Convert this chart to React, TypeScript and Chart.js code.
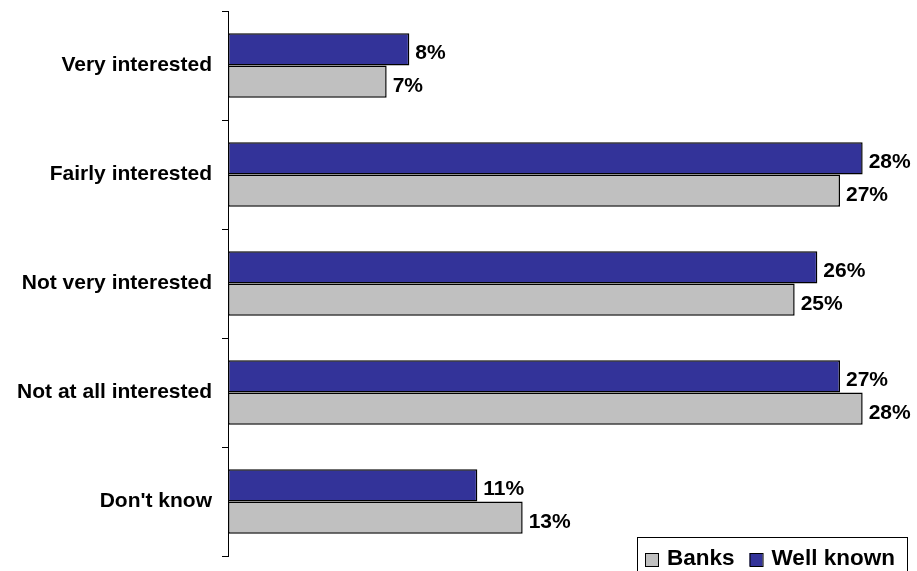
import React, { useEffect, useRef } from "react";
import { Chart, registerables } from "chart.js";

Chart.register(...registerables);

const categories = ["Very interested", "Fairly interested", "Not very interested", "Not at all interested", "Don't know"];
const wellKnown = [8, 28, 26, 27, 11];
const banks = [7, 27, 25, 28, 13];
const seriesNames = ["Well known", "Banks"];
const FONT = "'Liberation Sans', Arial, sans-serif";

const dataLabels = {
  id: "dataLabels",
  afterDatasetsDraw(chart: any) {
    const ctx = chart.ctx;
    ctx.save();
    ctx.font = `bold 21px ${FONT}`;
    ctx.fillStyle = "#000";
    ctx.textAlign = "left";
    ctx.textBaseline = "alphabetic";
    chart.data.datasets.forEach((ds: any, i: number) => {
      const meta = chart.getDatasetMeta(i);
      meta.data.forEach((bar: any, j: number) => {
        ctx.fillText(ds.data[j] + "%", bar.x + 6, bar.y + 10);
      });
    });
    ctx.restore();
  },
};

const boxLegend = {
  id: "boxLegend",
  afterDraw(chart: any) {
    const ctx = chart.ctx;
    ctx.save();
    const bx = 637, by = 537;
    ctx.strokeStyle = "#000";
    ctx.lineWidth = 1;
    ctx.strokeRect(bx + 0.5, by + 0.5, 270, 50);
    const items = [
      { label: seriesNames[1], color: "#C0C0C0" },
      { label: seriesNames[0], color: "#333399" },
    ];
    ctx.font = `bold 22.5px ${FONT}`;
    ctx.textBaseline = "alphabetic";
    ctx.textAlign = "left";
    let x = bx + 8;
    const baseY = 565;
    items.forEach((it) => {
      ctx.fillStyle = it.color;
      ctx.fillRect(x, 553, 13, 13);
      ctx.strokeStyle = "#000";
      ctx.strokeRect(x + 0.5, 553.5, 13, 13);
      ctx.fillStyle = "#000";
      ctx.fillText(it.label, x + 22, baseY);
      x += 22 + ctx.measureText(it.label).width + 15;
    });
    ctx.restore();
  },
};

export default function App() {
  const ref = useRef<HTMLCanvasElement>(null);
  useEffect(() => {
    if (!ref.current) return;
    const chart = new Chart(ref.current, {
      type: "bar",
      data: {
        labels: categories,
        datasets: [
          {
            label: seriesNames[0],
            data: wellKnown,
            backgroundColor: "#333399",
            borderColor: "#000",
            borderWidth: 1.5,
            borderSkipped: false,
            categoryPercentage: 0.59,
            barPercentage: 1,
          },
          {
            label: seriesNames[1],
            data: banks,
            backgroundColor: "#C0C0C0",
            borderColor: "#000",
            borderWidth: 1.5,
            borderSkipped: false,
            categoryPercentage: 0.59,
            barPercentage: 1,
          },
        ],
      },
      options: {
        indexAxis: "y",
        responsive: false,
        animation: false,
        layout: { padding: { top: 11, bottom: 15, right: 9, left: 0 } },
        plugins: {
          legend: { display: false },
          tooltip: { enabled: false },
        },
        scales: {
          x: { display: false, min: 0, max: 30 },
          y: {
            afterFit: (s: any) => {
              s.width = 228;
              s.paddingTop = 0;
              s.paddingBottom = 0;
            },
            grid: {
              offset: true,
              drawOnChartArea: false,
              drawTicks: true,
              tickLength: 6,
              color: "#000",
            },
            border: { display: true, color: "#000", width: 1 },
            ticks: {
              color: "#000",
              padding: 10,
              font: { family: FONT, size: 21, weight: "bold" },
            },
          },
        },
      },
      plugins: [dataLabels, boxLegend],
    } as any);
    return () => chart.destroy();
  }, []);
  return (
    <div style={{ position: "absolute", left: 0, top: 0, width: 917, height: 571 }}>
      <canvas ref={ref} width={917} height={571} style={{ display: "block" }} />
    </div>
  );
}
